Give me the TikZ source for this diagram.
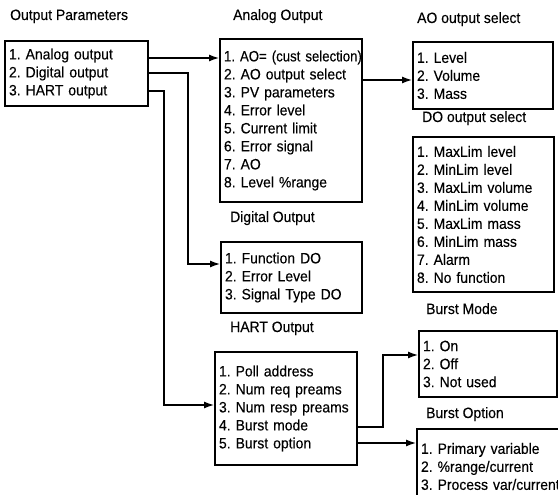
\documentclass[tikz,border=0pt]{standalone}
\usepackage{fontspec}
\setmainfont{Liberation Sans}[FakeStretch=0.93,FakeBold=0.25]
\usetikzlibrary{arrows.meta}
\frenchspacing
\begin{document}
\begin{tikzpicture}[x=1pt,y=-1pt,
  every node/.style={font=\fontsize{15}{18}\selectfont},
  menubox/.style={draw, line width=2.4pt, anchor=north west, align=left,
    inner xsep=4pt, inner ysep=0pt, outer sep=0pt},
  title/.style={anchor=base west, inner sep=0pt},
  conn/.style={line width=2.4pt},
  arr/.style={conn, -{Latex[length=11pt,width=7pt]}}]
\useasboundingbox (0,0) rectangle (558,495);
\clip (0,0) rectangle (558,495);

% titles
\node[title] (t1) at (10,20) {Output Parameters};
\node[title] (t2) at (233,20) {Analog Output};
\node[title] (t3) at (417,23) {AO output select};
\node[title] (t4) at (422,122) {DO output select};
\node[title] (t5) at (230,222) {Digital Output};
\node[title] (t6) at (230,332) {HART Output};
\node[title] (t7) at (426,314) {Burst Mode};
\node[title] (t8) at (426,418) {Burst Option};

% boxes
\node[menubox, text width=135pt, minimum height=65pt] (op) at (5,41)
  {1. Analog output\\2. Digital output\\3. HART output};
\node[menubox, text width=134pt, minimum height=163pt] (ao) at (220,39)
  {\mbox{\addfontfeatures{FakeStretch=0.88}1. AO= (cust selection)}\\2. AO output select\\3. PV parameters\\4. Error level\\5. Current limit\\6. Error signal\\7. AO\\8. Level \%range};
\node[menubox, text width=132pt, minimum height=67pt] (aosel) at (413,42)
  {1. Level\\2. Volume\\3. Mass};
\node[menubox, text width=133pt, minimum height=155pt] (dosel) at (413,137)
  {1. MaxLim level\\2. MinLim level\\3. MaxLim volume\\4. MinLim volume\\5. MaxLim mass\\6. MinLim mass\\7. Alarm\\8. No function};
\node[menubox, text width=133pt, minimum height=71pt] (dig) at (221,242)
  {1. Function DO\\2. Error Level\\3. Signal Type DO};
\node[menubox, text width=134pt, minimum height=113pt] (hart) at (215,352)
  {1. Poll address\\2. Num req preams\\3. Num resp preams\\4. Burst mode\\5. Burst option};
\node[menubox, text width=130pt, minimum height=66pt] (bm) at (419,331)
  {1. On\\2. Off\\3. Not used};
\node[menubox, text width=142pt, minimum height=75pt] (bo) at (417,429)
  {1. Primary variable\\2. \%range/current\\3. Process var/current};

% connector rows
\coordinate (r1) at (0,58);
\coordinate (r2) at (0,73);
\coordinate (r3) at (0,91);
\coordinate (r4) at (0,80);
\coordinate (r5) at (0,427);
\coordinate (r6) at (0,443);
\coordinate (c2) at (188,264);
\coordinate (c3) at (164,405);
\coordinate (c5) at (383,355);

\draw[arr] (op.east |- r1) -- (ao.west |- r1);
\draw[arr] (op.east |- r2) -| (c2) -- (dig.west |- c2);
\draw[arr] (op.east |- r3) -| (c3) -- (hart.west |- c3);
\draw[arr] (ao.east |- r4) -- (aosel.west |- r4);
\draw[arr] (hart.east |- r5) -| (c5) -- (bm.west |- c5);
\draw[arr] (hart.east |- r6) -- (bo.west |- r6);
\end{tikzpicture}
\end{document}
